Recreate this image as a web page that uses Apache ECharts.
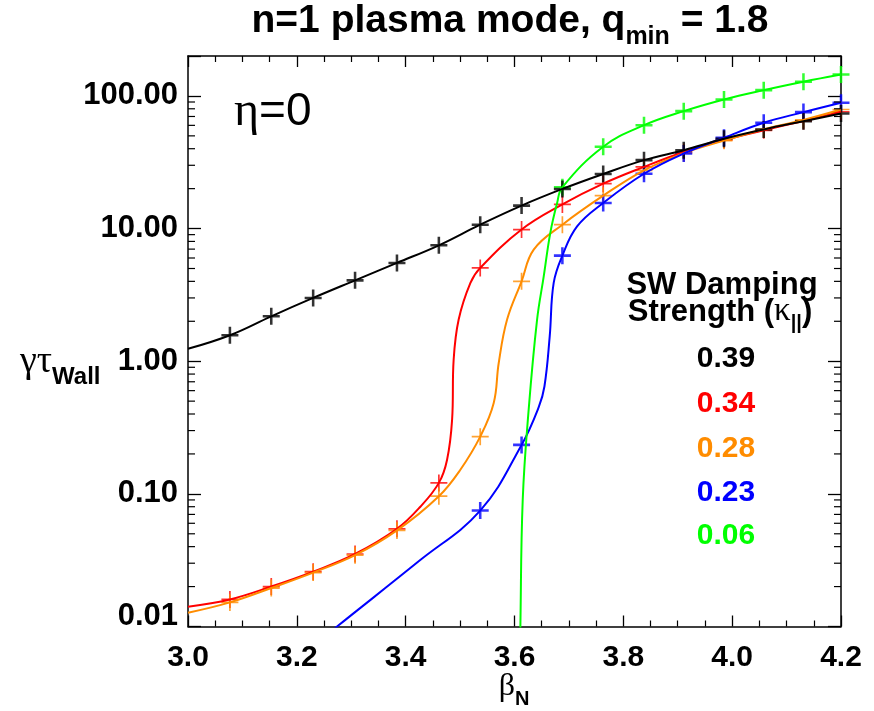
<!DOCTYPE html>
<html>
<head>
<meta charset="utf-8">
<script src="https://cdn.jsdelivr.net/npm/echarts@6/dist/echarts.min.js"></script>
<style>
  html, body { margin: 0; padding: 0; background: #fff; }
  #chart { width: 874px; height: 711px; }
</style>
</head>
<body>
<div id="chart"></div>
<script>
// beta_N values of the computed equilibria
const betaN = [3.077, 3.153, 3.230, 3.307, 3.384, 3.461, 3.537, 3.613,
               3.688, 3.763, 3.838, 3.911, 3.985, 4.058, 4.131, 4.200];

// growth rate (gamma * tau_wall) per damping strength kappa_par; null = not computed
const growth039 = [1.57, 2.18, 3.00, 4.07, 5.51, 7.48, 10.7, 14.9,
                   19.9, 25.8, 32.8, 39.0, 47.5, 55.9, 64.5, 73.8];
const growth034 = [0.0160, 0.0200, 0.0259, 0.0352, 0.0545, 0.121, 5.05, 9.83,
                   15.2, 21.8, 29.2, 37.8, 46.5, 55.0, 64.8, 76.0];
const growth028 = [0.0152, 0.0195, 0.0255, 0.0345, 0.0530, 0.0960, 0.270, 4.00,
                   10.7, 17.7, 27.5, 37.0, 46.0, 56.0, 66.0, 79.0];
const growth023 = [null, null, null, null, null, null, 0.0748, 0.234,
                   6.25, 15.6, 25.9, 36.8, 48.4, 62.8, 75.5, 88.9];
const growth006 = [null, null, null, null, null, null, null, null,
                   20.5, 41.4, 60.2, 76.8, 94.0, 110.6, 128, 145];

// additional points along the fitted curves between the computed equilibria
const curve039 = [[3.000, 1.24]];
const curve034 = [[3.000, 0.0141], [3.427, 0.080], [3.4761, 0.181],
                  [3.4853, 0.361], [3.4882, 1.03],
                  [3.4974, 2.06], [3.519, 3.89]];
const curve028 = [[3.000, 0.0127], [3.5005, 0.152], [3.5618, 0.484],
                  [3.5710, 0.97], [3.5864, 2.06], [3.6353, 6.94]];
const curve023 = [[3.250, 0.0083], [3.2739, 0.010], [3.4239, 0.031],
                  [3.6445, 0.45], [3.655, 0.645],
                  [3.6647, 1.54], [3.672, 3.89], [3.715, 10.4]];
const curve006 = [[3.6100, 0.005], [3.6108, 0.010], [3.6151, 0.090],
                  [3.6260, 0.43], [3.6415, 2.06], [3.6537, 4.36],
                  [3.6658, 9.29], [3.6783, 15.6]];

// legend entries (kappa_par) and their colours
const kappaLabels = ['0.39', '0.34', '0.28', '0.23', '0.06'];
const kappaColors = ['#000000', '#ff0000', '#ff8c00', '#0000ff', '#00ff00'];

// axis ranges and tick values
const xRange = [3.0, 4.2];
const yRange = [0.01, 200];
const yMajorTicks = [0.01, 0.1, 1, 10, 100];
const yMinorTicks = [];
for (let e = -2; e <= 2; e++) {
  for (let m = 2; m <= 9; m++) {
    const v = m * Math.pow(10, e);
    if (v < yRange[1]) yMinorTicks.push(+v.toPrecision(3));
  }
}

const FONT = '"Liberation Sans", Arial, Helvetica, sans-serif';
const GREEK = '"Liberation Serif", "DejaVu Serif", serif';

const PLUS_THIN = 'path://M0,9L20,9L20,11L0,11Z M9,0L11,0L11,20L9,20Z';
const PLUS_BOLD = 'path://M0,8.5L20,8.5L20,11.5L0,11.5Z M8.5,0L11.5,0L11.5,20L8.5,20Z';

function markerPoints(vals) {
  const pts = [];
  vals.forEach((v, i) => { if (v != null) pts.push([betaN[i], v]); });
  return pts;
}
function curvePoints(vals, extra) {
  return markerPoints(vals).concat(extra).sort((a, b) => a[0] - b[0]);
}

const curves = [
  { vals: growth034, extra: curve034, color: kappaColors[1], sym: PLUS_THIN },
  { vals: growth028, extra: curve028, color: kappaColors[2], sym: PLUS_THIN },
  { vals: growth023, extra: curve023, color: kappaColors[3], sym: PLUS_BOLD },
  { vals: growth006, extra: curve006, color: kappaColors[4], sym: PLUS_BOLD },
  { vals: growth039, extra: curve039, color: kappaColors[0], sym: PLUS_BOLD }
];

const series = [];
curves.forEach(c => {
  series.push({
    type: 'line',
    data: curvePoints(c.vals, c.extra),
    smooth: 0.4,
    showSymbol: false,
    clip: true,
    lineStyle: { color: c.color, width: 2 },
    silent: true
  });
  series.push({
    type: 'scatter',
    data: markerPoints(c.vals),
    symbol: c.sym,
    symbolSize: 17,
    clip: false,
    itemStyle: { color: c.color },
    silent: true
  });
});

// logarithmic minor ticks on both vertical axes
series.push({
  type: 'custom',
  data: yMinorTicks.map(v => [xRange[0], v]),
  clip: false,
  silent: true,
  z: 5,
  renderItem: (params, api) => {
    const v = api.value(1);
    const pl = api.coord([xRange[0], v]);
    const pr = api.coord([xRange[1], v]);
    return {
      type: 'group',
      children: [
        { type: 'line', shape: { x1: pl[0], y1: pl[1], x2: pl[0] + 7, y2: pl[1] },
          style: { stroke: '#000', lineWidth: 1.2 } },
        { type: 'line', shape: { x1: pr[0] - 7, y1: pr[1], x2: pr[0], y2: pr[1] },
          style: { stroke: '#000', lineWidth: 1.2 } }
      ]
    };
  }
});

function isDecade(v) {
  const l = Math.log10(v);
  return Math.abs(l - Math.round(l)) < 1e-6;
}

const axisLineStyle = { color: '#000', width: 1.5 };
const tickStyle = { color: '#000', width: 1.3 };

function xAxisDef(pos, showLabels) {
  return {
    type: 'value', min: xRange[0], max: xRange[1], interval: 0.2, position: pos,
    axisLine: { show: true, onZero: false, lineStyle: axisLineStyle },
    axisTick: { show: true, inside: true, length: 11, lineStyle: tickStyle },
    minorTick: { show: true, splitNumber: 4, length: 6, lineStyle: { color: '#000', width: 1.2 } },
    splitLine: { show: false },
    axisLabel: {
      show: showLabels, color: '#000', fontFamily: FONT, fontWeight: 'bold', fontSize: 30,
      margin: 16, formatter: v => v.toFixed(1)
    }
  };
}
function yAxisDef(pos, showLabels) {
  return {
    type: 'log', logBase: 10, min: yRange[0], max: yRange[1], position: pos,
    axisLine: { show: true, onZero: false, lineStyle: axisLineStyle },
    axisTick: { show: true, inside: true, length: 13, lineStyle: tickStyle },
    splitLine: { show: false },
    axisLabel: {
      show: showLabels, color: '#000', fontFamily: FONT, fontWeight: 'bold', fontSize: 31,
      margin: 10,
      formatter: v => {
        if (!isDecade(v)) return '';
        const hit = yMajorTicks.find(t => Math.abs(Math.log10(t) - Math.log10(v)) < 1e-6);
        if (hit === undefined) return '';
        const s = hit.toFixed(2);
        return hit === yRange[0] ? '{lo|' + s + '}' : s;
      },
      rich: {
        lo: { fontFamily: FONT, fontWeight: 'bold', fontSize: 31, color: '#000', padding: [0, 0, 20, 0] }
      }
    }
  };
}

const graphic = [
  {
    type: 'text', x: 510, y: 26,
    style: {
      text: '{m|n=1 plasma mode, q}{s|min}{m| = 1.8}',
      align: 'center', verticalAlign: 'middle',
      rich: {
        m: { font: 'bold 39px ' + FONT, fill: '#000', verticalAlign: 'bottom', padding: [0, 0, 9, 0] },
        s: { font: 'bold 25px ' + FONT, fill: '#000', verticalAlign: 'bottom' }
      }
    }
  },
  {
    type: 'text', x: 234, y: 112,
    style: {
      text: '{g|η}{m|=0}', align: 'left', verticalAlign: 'middle',
      rich: {
        g: { font: 'normal 48px ' + GREEK, fill: '#000' },
        m: { font: 'normal 46px ' + FONT, fill: '#000' }
      }
    }
  },
  {
    type: 'text', x: 20, y: 366,
    style: {
      text: '{g|γτ}{s|Wall}', align: 'left', verticalAlign: 'middle',
      rich: {
        g: { font: 'normal 38px ' + GREEK, fill: '#000', verticalAlign: 'bottom', padding: [0, 0, 8, 0] },
        s: { font: 'bold 24px ' + FONT, fill: '#000', verticalAlign: 'bottom' }
      }
    }
  },
  {
    type: 'text', x: 514, y: 690,
    style: {
      text: '{g|β}{s|N}', align: 'center', verticalAlign: 'middle',
      rich: {
        g: { font: 'normal 32px ' + GREEK, fill: '#000', verticalAlign: 'bottom', padding: [0, 0, 7, 0] },
        s: { font: 'bold 20px ' + FONT, fill: '#000', verticalAlign: 'bottom' }
      }
    }
  },
  {
    type: 'text', x: 722, y: 285,
    style: { text: 'SW Damping', font: 'bold 31px ' + FONT, fill: '#000', align: 'center', verticalAlign: 'middle' }
  },
  {
    type: 'text', x: 720, y: 314,
    style: {
      text: '{b|Strength (}{k|κ}{s|||}{b|)}', align: 'center', verticalAlign: 'middle',
      rich: {
        b: { font: 'bold 31px ' + FONT, fill: '#000', verticalAlign: 'bottom', padding: [0, 0, 6, 0] },
        k: { font: 'normal 33px ' + GREEK, fill: '#000', verticalAlign: 'bottom', padding: [0, 0, 6, 0] },
        s: { font: 'bold 20px ' + FONT, fill: '#000', verticalAlign: 'bottom' }
      }
    }
  }
];
const legendY = [359, 404, 449, 492.5, 536];
kappaLabels.forEach((t, i) => {
  graphic.push({
    type: 'text', x: 726, y: legendY[i],
    style: { text: t, font: 'bold 30px ' + FONT, fill: kappaColors[i], align: 'center', verticalAlign: 'middle' }
  });
});

const chart = echarts.init(document.getElementById('chart'), null, { renderer: 'canvas' });
chart.setOption({
  animation: false,
  backgroundColor: '#fff',
  grid: { left: 188, right: 33, top: 56, bottom: 84.5 },
  xAxis: [xAxisDef('bottom', true), xAxisDef('top', false)],
  yAxis: [yAxisDef('left', true), yAxisDef('right', false)],
  series: series,
  graphic: graphic
});
</script>
</body>
</html>
